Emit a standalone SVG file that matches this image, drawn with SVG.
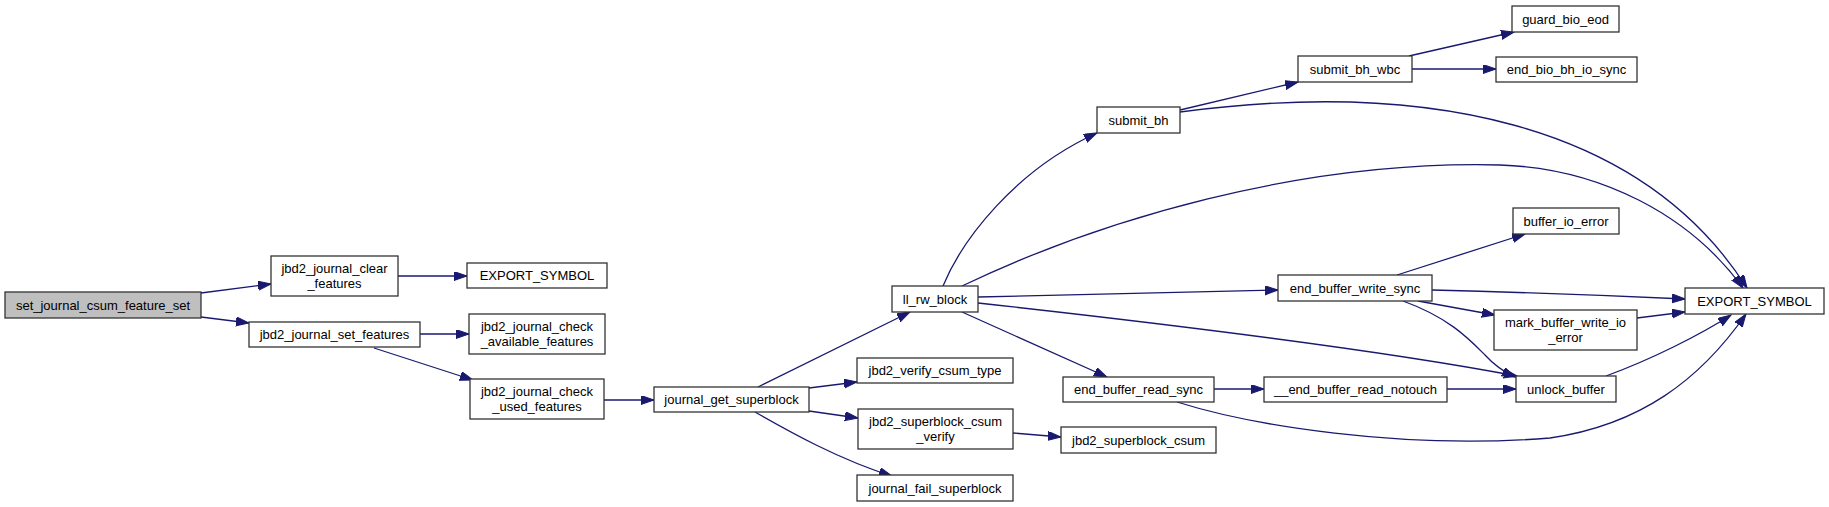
<svg xmlns="http://www.w3.org/2000/svg" width="1829" height="507" viewBox="0 0 1829 507">
<style>
.n rect{fill:#ffffff;stroke:#333333;stroke-width:1.3}
.n.root rect{fill:#bfbfbf}
.n text{font-family:"Liberation Sans",Arial,Helvetica,sans-serif;font-size:13px;fill:#000000;text-anchor:middle}
.e path{fill:none;stroke:#191970;stroke-width:1.3;marker-end:url(#ah)}
</style>
<defs>
<marker id="ah" markerUnits="userSpaceOnUse" markerWidth="14" markerHeight="10" refX="13" refY="4.5" orient="auto">
<path d="M0,0 L13,4.5 L0,9 z" fill="#191970" stroke="#191970" stroke-width="1"/>
</marker>
</defs>
<rect width="1829" height="507" fill="#ffffff"/>
<g class="e" id="edges">
<path d="M201,293 L271,284"/>
<path d="M201,317 L249,323"/>
<path d="M398,276 L467,276"/>
<path d="M420,334 L469,334"/>
<path d="M374,348 L473,380"/>
<path d="M604,400 L654,400"/>
<path d="M758,387 L910,312"/>
<path d="M809,388 L857,382"/>
<path d="M809,411 L858,418"/>
<path d="M755,412 C790,432 840,460 892,476"/>
<path d="M1013,433 L1061,437"/>
<path d="M943,286 C962,240 1015,170 1097,133"/>
<path d="M962,286 C1100,220 1300,160 1500,165 C1600,168 1690,215 1743,288"/>
<path d="M1180,112 C1420,80 1640,120 1747,288"/>
<path d="M978,297 C1100,294 1200,292 1278,290"/>
<path d="M978,303 C1150,322 1380,350 1517,376"/>
<path d="M962,312 L1107,377"/>
<path d="M1180,110 L1298,82"/>
<path d="M1409,56 L1514,32"/>
<path d="M1412,69 L1496,69"/>
<path d="M1397,275 L1525,234"/>
<path d="M1432,290 C1550,293 1620,296 1685,299"/>
<path d="M1418,301 L1495,315"/>
<path d="M1403,301 C1450,318 1470,340 1485,355 C1495,366 1504,372 1515,377"/>
<path d="M1214,389 L1264,389"/>
<path d="M1177,402 C1250,425 1400,450 1550,438 C1640,425 1700,380 1746,314"/>
<path d="M1447,389 L1516,389"/>
<path d="M1637,318 L1685,312"/>
<path d="M1606,376 C1650,360 1700,335 1731,315"/>
</g>
<g class="n root" id="n0"><rect x="5" y="292" width="196" height="26"/><text x="103" y="309.6">set_journal_csum_feature_set</text></g>
<g class="n" id="n1"><rect x="271" y="256" width="127" height="40"/><text x="334.5" y="273">jbd2_journal_clear</text><text x="334.5" y="288">_features</text></g>
<g class="n" id="n2"><rect x="467" y="263" width="140" height="25"/><text x="537" y="280">EXPORT_SYMBOL</text></g>
<g class="n" id="n3"><rect x="249" y="322" width="171" height="25"/><text x="334.5" y="339">jbd2_journal_set_features</text></g>
<g class="n" id="n4"><rect x="469" y="314" width="136" height="40"/><text x="537" y="331">jbd2_journal_check</text><text x="537" y="346">_available_features</text></g>
<g class="n" id="n5"><rect x="470" y="379" width="134" height="40"/><text x="537" y="396">jbd2_journal_check</text><text x="537" y="411">_used_features</text></g>
<g class="n" id="n6"><rect x="654" y="387" width="155" height="25"/><text x="731.5" y="404">journal_get_superblock</text></g>
<g class="n" id="n7"><rect x="892" y="286" width="86" height="26"/><text x="935" y="303.6">ll_rw_block</text></g>
<g class="n" id="n8"><rect x="857" y="358" width="156" height="25"/><text x="935" y="375">jbd2_verify_csum_type</text></g>
<g class="n" id="n9"><rect x="858" y="409" width="155" height="40"/><text x="935.5" y="426">jbd2_superblock_csum</text><text x="935.5" y="441">_verify</text></g>
<g class="n" id="n10"><rect x="857" y="475" width="156" height="26"/><text x="935" y="492.6">journal_fail_superblock</text></g>
<g class="n" id="n11"><rect x="1097" y="107" width="83" height="26"/><text x="1138.5" y="124.6">submit_bh</text></g>
<g class="n" id="n12"><rect x="1278" y="275" width="154" height="26"/><text x="1355" y="292.6">end_buffer_write_sync</text></g>
<g class="n" id="n13"><rect x="1063" y="377" width="151" height="25"/><text x="1138.5" y="394">end_buffer_read_sync</text></g>
<g class="n" id="n14"><rect x="1061" y="427" width="155" height="26"/><text x="1138.5" y="444.6">jbd2_superblock_csum</text></g>
<g class="n" id="n15"><rect x="1298" y="56" width="114" height="26"/><text x="1355" y="73.6">submit_bh_wbc</text></g>
<g class="n" id="n16"><rect x="1512" y="6" width="107" height="26"/><text x="1565.5" y="23.6">guard_bio_eod</text></g>
<g class="n" id="n17"><rect x="1496" y="57" width="141" height="25"/><text x="1566.5" y="74">end_bio_bh_io_sync</text></g>
<g class="n" id="n18"><rect x="1513" y="208" width="106" height="26"/><text x="1566" y="225.6">buffer_io_error</text></g>
<g class="n" id="n19"><rect x="1685" y="288" width="139" height="26"/><text x="1754.5" y="305.6">EXPORT_SYMBOL</text></g>
<g class="n" id="n20"><rect x="1494" y="310" width="143" height="40"/><text x="1565.5" y="327">mark_buffer_write_io</text><text x="1565.5" y="342">_error</text></g>
<g class="n" id="n21"><rect x="1516" y="376" width="100" height="26"/><text x="1566" y="393.6">unlock_buffer</text></g>
<g class="n" id="n22"><rect x="1264" y="377" width="183" height="25"/><text x="1355.5" y="394">__end_buffer_read_notouch</text></g>
</svg>
